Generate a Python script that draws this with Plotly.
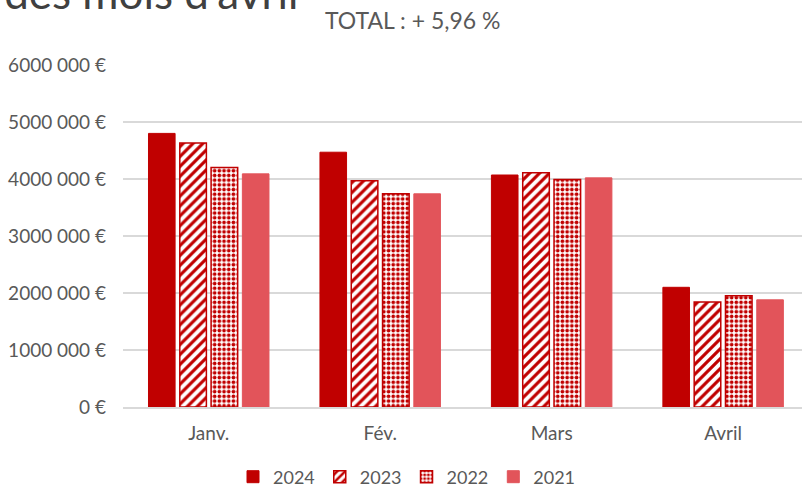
import plotly.graph_objects as go

months = ["Janv.", "Fév.", "Mars", "Avril"]
years = ["2024", "2023", "2022", "2021"]
v2024 = [4800000, 4470000, 4070000, 2100000]
v2023 = [4630000, 3970000, 4110000, 1840000]
v2022 = [4200000, 3740000, 3990000, 1950000]
v2021 = [4090000, 3740000, 4020000, 1880000]
tick_vals = [0, 1000000, 2000000, 3000000, 4000000, 5000000, 6000000]
tick_text = ["0 €", "1000 000 €", "2000 000 €", "3000 000 €", "4000 000 €", "5000 000 €", "6000 000 €"]
subtitle = "TOTAL : + 5,96 %"
title_text = "Chiffre d'affaires des mois d'avril"

RED = "#C00000"
LIGHT = "#E2545A"
FONT = "Lato, 'Liberation Sans', sans-serif"
GREY = "#595959"

L, T, B = 123, 65, 80
W, H = 802, 487
PW = W - L
PH = H - T - B

fig = go.Figure()
fig.add_bar(name=years[0], x=months, y=v2024,
            marker=dict(color=RED, line=dict(color=RED, width=1)))
fig.add_bar(name=years[1], x=months, y=v2023,
            marker=dict(color="white", line=dict(color=RED, width=1.5),
                        pattern=dict(shape="/", fgcolor=RED, bgcolor="white",
                                     size=7, solidity=0.45, fillmode="replace")))
fig.add_bar(name=years[2], x=months, y=v2022,
            marker=dict(color="white", line=dict(color=RED, width=1.5),
                        pattern=dict(shape=".", fgcolor=RED, bgcolor="white",
                                     size=4.7, solidity=0.5, fillmode="replace")))
fig.add_bar(name=years[3], x=months, y=v2021,
            marker=dict(color=LIGHT, line=dict(color=LIGHT, width=1)))

fig.update_layout(
    width=W, height=H,
    margin=dict(l=L, r=0, t=T, b=B, autoexpand=False),
    paper_bgcolor="white", plot_bgcolor="white",
    barmode="group", bargap=0.27, bargroupgap=0.15,
    font=dict(family=FONT, color=GREY, size=19),
    showlegend=True,
    legend=dict(orientation="h", x=(407 - L) / PW, xanchor="center",
                y=-(477 - (T + PH)) / PH, yanchor="middle",
                font=dict(size=18, color=GREY), itemwidth=30, traceorder="normal"),
)
fig.add_annotation(text=subtitle, xref="paper", yref="paper", x=(413 - L) / PW, y=1.0,
                   yanchor="middle", xanchor="center", yshift=T - 20,
                   showarrow=False, font=dict(size=23, color=GREY, family=FONT))
fig.add_annotation(text=title_text, xref="paper", yref="paper", x=(300 - L) / PW, xanchor="right",
                   y=1.0, yanchor="bottom", yshift=T - 20, showarrow=False,
                   font=dict(size=44, color="#404040", family=FONT))

fig.update_xaxes(range=[-0.5, 3.46], showline=True, linecolor="#D9D9D9", linewidth=1.5,
                 ticks="", tickfont=dict(size=19, color=GREY), ticklabelstandoff=8,
                 showgrid=False, automargin=False)
fig.update_yaxes(range=[0, 6000000], tickvals=tick_vals, ticktext=tick_text,
                 showgrid=True, gridcolor="#D9D9D9", gridwidth=1.5, zeroline=False,
                 tickfont=dict(size=19, color=GREY), ticklabelstandoff=16, automargin=False)

fig.write_html("out.html", config={"displayModeBar": False},
               post_script="document.body.style.margin='0';")
